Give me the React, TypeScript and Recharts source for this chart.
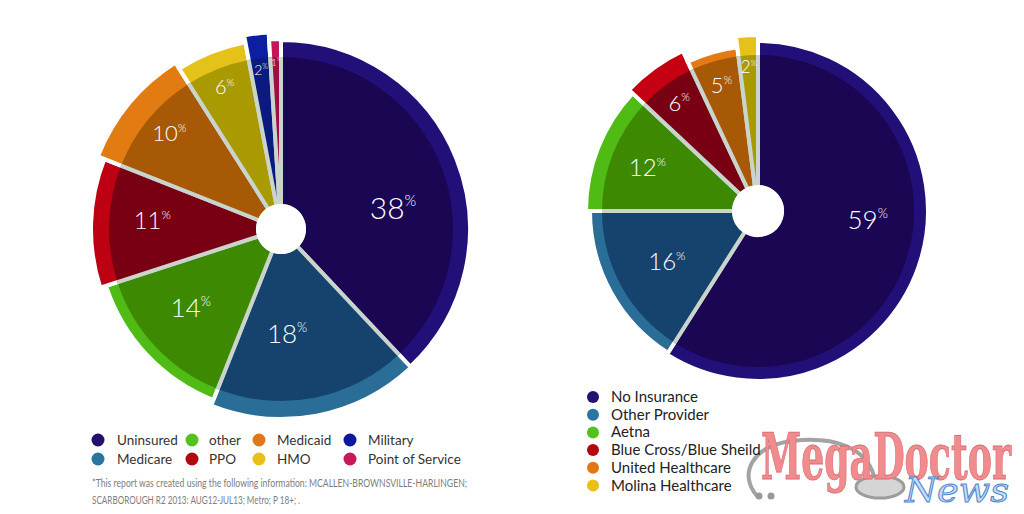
import React from 'react';
import { PieChart, Pie, Cell } from 'recharts';

// ---------- data ----------
const LEFT_NAMES = ['Uninsured', 'Medicare', 'other', 'PPO', 'Medicaid', 'HMO', 'Military', 'Point of Service'];
const LEFT_VALUES = [38, 18, 14, 11, 10, 6, 2, 1];

const RIGHT_NAMES = ['No Insurance', 'Other Provider', 'Aetna', 'Blue Cross/Blue Sheild', 'United Healthcare', 'Molina Healthcare'];
const RIGHT_VALUES = [59, 16, 12, 6, 5, 2];

const FOOTNOTE_LINES = [
  '*This report was created using the following information: MCALLEN-BROWNSVILLE-HARLINGEN;',
  'SCARBOROUGH R2 2013: AUG12-JUL13; Metro; P 18+; .',
];

// ---------- styles / layout ----------
const LEFT_RIM = ['#230f78', '#2a6e98', '#4fbb14', '#bd0012', '#e27b12', '#e4c21a', '#0b1fa0', '#c8145a'];
const LEFT_INNER = ['#1a0652', '#16436e', '#3d8a02', '#780012', '#a85906', '#aa9a02', '#0a1a7e', '#a00c45'];
const LEFT_LEGEND = ['#25106e', '#2a74a0', '#55c020', '#b00a10', '#e07818', '#e8c018', '#0a1a9a', '#c8185a'];
const LEFT_RIM_R = [189, 190, 184, 190, 197, 190, 197, 190];
const LEFT_LABEL_R = [114, 105, 120, 129, 147, 153, 160, 167];
const LEFT_LABEL_DELTA = [11, 7.5, 2, 2, 1, 0, 0, 0];
const LEFT_LABEL_FS = [30, 26, 26, 24, 22, 20, 14, 10];

const RIGHT_RIM = ['#230f78', '#2a6e98', '#4fbb14', '#c40012', '#e27b12', '#e4c21a'];
const RIGHT_INNER = ['#1a0652', '#16436e', '#3d8a02', '#780012', '#a85906', '#aa9a02'];
const RIGHT_LEGEND = ['#25106e', '#2a74a0', '#55c020', '#b00a10', '#e07818', '#e8c018'];
const RIGHT_RIM_R = [170, 168, 172, 177, 165, 176];
const RIGHT_LABEL_R = [110, 104, 119, 134, 131, 144];
const RIGHT_LABEL_DELTA = [-11.5, 0, 0, 0, 0, 0];
const RIGHT_LABEL_FS = [26, 24, 24, 22, 22, 17];

const SEP = '#c9d4cd';
const LABEL_FONT = "Lato, 'Open Sans', sans-serif";

const leftData = LEFT_NAMES.map((name, i) => ({ name, value: LEFT_VALUES[i] }));
const rightData = RIGHT_NAMES.map((name, i) => ({ name, value: RIGHT_VALUES[i] }));
const holeData = [{ name: 'hole', value: 1 }];

const RAD = Math.PI / 180;

function makeLabel(radii: number[], deltas: number[], sizes: number[]) {
  return (props: any) => {
    const { cx, cy, midAngle, index, value } = props;
    const ang = (midAngle - deltas[index]) * RAD;
    const r = radii[index];
    const x = cx + r * Math.cos(ang);
    const y = cy - r * Math.sin(ang);
    const fs = sizes[index];
    return (
      <text
        key={'lbl' + index}
        x={x}
        y={y + fs * 0.36}
        textAnchor="middle"
        fill="#ffffff"
        fontFamily={LABEL_FONT}
        fontWeight={300}
        fontSize={fs}
      >
        {value}
        <tspan fontSize={fs * 0.5} dy={-fs * 0.42}>%</tspan>
      </text>
    );
  };
}

function piesFor(
  data: { name: string; value: number }[],
  cx: number,
  cy: number,
  rimR: number[],
  rimColors: string[],
  innerColors: string[],
  innerR: number,
  holeR: number,
  label: any,
  prefix: string
) {
  const total = data.reduce((s, d) => s + d.value, 0);
  const out: any[] = [];
  rimR.forEach((r, i) => {
    out.push(
      <Pie
        key={prefix + 'rim' + i}
        data={data}
        dataKey="value"
        cx={cx}
        cy={cy}
        innerRadius={innerR - 20}
        outerRadius={r}
        startAngle={90}
        endAngle={-270}
        isAnimationActive={false}
        stroke="none"
      >
        {data.map((d, j) => (
          <Cell
            key={j}
            fill={j === i ? rimColors[i] : 'none'}
            stroke={j === i ? '#ffffff' : 'none'}
            strokeWidth={4}
          />
        ))}
      </Pie>
    );
  });
  out.push(
    <Pie
      key={prefix + 'inner'}
      data={data}
      dataKey="value"
      cx={cx}
      cy={cy}
      innerRadius={holeR - 2}
      outerRadius={innerR}
      startAngle={90}
      endAngle={-270}
      isAnimationActive={false}
      label={label}
      labelLine={false}
    >
      {data.map((d, j) => {
        const arc = innerR * (d.value / total) * 2 * Math.PI;
        return (
          <Cell
            key={j}
            fill={innerColors[j]}
            stroke={SEP}
            strokeWidth={4}
            strokeDasharray={`0 ${arc.toFixed(2)} 4000`}
          />
        );
      })}
    </Pie>
  );
  out.push(
    <Pie
      key={prefix + 'hole'}
      data={holeData}
      dataKey="value"
      cx={cx}
      cy={cy}
      innerRadius={0}
      outerRadius={holeR}
      startAngle={90}
      endAngle={-270}
      isAnimationActive={false}
      fill="#ffffff"
      stroke="none"
    />
  );
  return out;
}

export default function App() {
  const legendFont = "Lato, 'Open Sans', sans-serif";
  return (
    <div style={{ position: 'absolute', left: 0, top: 0, width: 1024, height: 514, background: '#ffffff' }}>
      <div style={{ position: 'absolute', left: 0, top: 0 }}>
        <PieChart width={1024} height={514} margin={{ top: 0, right: 0, bottom: 0, left: 0 }}>
          {piesFor(leftData, 281, 229, LEFT_RIM_R, LEFT_RIM, LEFT_INNER, 172, 25,
            makeLabel(LEFT_LABEL_R, LEFT_LABEL_DELTA, LEFT_LABEL_FS), 'L')}
          {piesFor(rightData, 758, 211, RIGHT_RIM_R, RIGHT_RIM, RIGHT_INNER, 156, 26,
            makeLabel(RIGHT_LABEL_R, RIGHT_LABEL_DELTA, RIGHT_LABEL_FS), 'R')}
        </PieChart>
      </div>
      <svg width={1024} height={514} style={{ position: 'absolute', left: 0, top: 0 }}>
        {/* left legend */}
        {LEFT_NAMES.map((n, i) => {
          const colX = [98, 192, 259, 350][Math.floor(i / 2)];
          const txtX = [117, 209, 277, 368][Math.floor(i / 2)];
          const y = 440 + (i % 2) * 19;
          return (
            <g key={'ll' + i}>
              <circle cx={colX} cy={y} r={6.5} fill={LEFT_LEGEND[i]} />
              <text x={txtX} y={y + 4.5} fontFamily={legendFont} fontSize={13.5} fill="#333">{n}</text>
            </g>
          );
        })}
        {/* footnote */}
        <text x={92} y={487} fontFamily={legendFont} fontSize={10.5} fill="#7d7d7d" textLength={375} lengthAdjust="spacingAndGlyphs">{FOOTNOTE_LINES[0]}</text>
        <text x={92} y={504} fontFamily={legendFont} fontSize={10.5} fill="#7d7d7d" textLength={208} lengthAdjust="spacingAndGlyphs">{FOOTNOTE_LINES[1]}</text>
        {/* logo stethoscope */}
        <path d="M 757 496 C 738 474 752 446 792 441 C 835 436 866 448 874 476" fill="none" stroke="#a3a3a3" strokeWidth={4} />
        <circle cx={759} cy={496} r={3.5} fill="#999" />
        <circle cx={771} cy={496} r={3.5} fill="#999" />
        <ellipse cx={880} cy={487} rx={24} ry={11} fill="#d5d5d5" stroke="#9c9c9c" strokeWidth={3} />
        <text x={761} y={479} fontFamily="'DejaVu Serif Condensed','DejaVu Serif',serif" fontWeight="bold" fontSize={64} fill="#f08b8e" stroke="#d76c72" strokeWidth={0.8} textLength={250} lengthAdjust="spacingAndGlyphs">MegaDoctor</text>
        <text x={905} y={502} fontFamily="'DejaVu Serif',serif" fontStyle="italic" fontSize={34} fill="#c6ddf7" stroke="#4f86cc" strokeWidth={1} textLength={104} lengthAdjust="spacingAndGlyphs">News</text>
        {/* right legend */}
        {RIGHT_NAMES.map((n, i) => {
          const y = 397 + i * 17.7;
          return (
            <g key={'rl' + i}>
              <circle cx={593} cy={y} r={6} fill={RIGHT_LEGEND[i]} />
              <text x={611} y={y + 5} fontFamily={legendFont} fontSize={15} fill="#222">{n}</text>
            </g>
          );
        })}
      </svg>
    </div>
  );
}
